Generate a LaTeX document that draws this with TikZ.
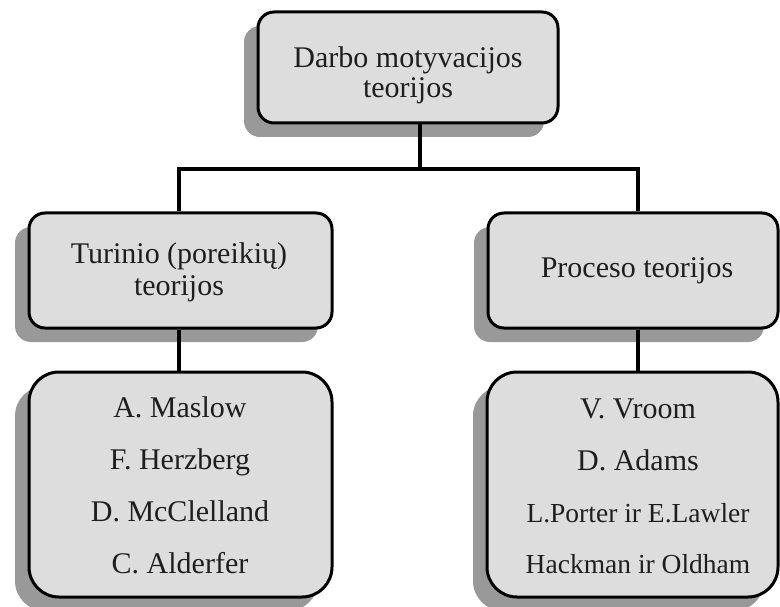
\documentclass[tikz,border=0pt]{standalone}
\usepackage{fontspec}
\setmainfont{Liberation Serif}
\usetikzlibrary{shadows}
\definecolor{boxfill}{RGB}{221,221,221}
\definecolor{shadowgray}{RGB}{153,153,153}
\definecolor{inkc}{RGB}{30,30,30}
\begin{document}
\begin{tikzpicture}[x=1pt,y=-1pt,
  box/.style={draw=black, line width=3pt, fill=boxfill, rectangle, inner sep=0pt,
    rounded corners=16pt,
    drop shadow={shadow xshift=-14pt, shadow yshift=-14pt, fill=shadowgray, opacity=1}},
  bigbox/.style={box, rounded corners=30pt},
  conn/.style={draw=black, line width=3.2pt, line join=miter},
  txt/.style={anchor=base, inner sep=0pt, text=inkc, font=\fontsize{30}{32}\selectfont},
  smalltxt/.style={txt, font=\fontsize{27.5}{29}\selectfont}]
\useasboundingbox (0,0) rectangle (780,607);

% boxes
\node[box, minimum width=300pt, minimum height=111pt] (T) at (408,67.5) {};
\node[box, minimum width=303pt, minimum height=115pt] (L) at (180.5,270.5) {};
\node[box, minimum width=290pt, minimum height=115pt] (R) at (633,270.5) {};
\node[bigbox, minimum width=303pt, minimum height=225pt] (BL) at (180.5,484.5) {};
\node[bigbox, minimum width=291pt, minimum height=225pt] (BR) at (632.5,484.5) {};

% texts
\node[txt] (t1) at (408,68) {Darbo motyvacijos};
\node[txt] (t2) at (408,98) {teorijos};
\node[txt] (l1) at (179,263) {Turinio (poreikių)};
\node[txt] (l2) at (179,295) {teorijos};
\node[txt] (r1) at (637,277) {Proceso teorijos};
\node[txt] (bl1) at (180,417) {A. Maslow};
\node[txt] (bl2) at (180,469) {F. Herzberg};
\node[txt] (bl3) at (180,521) {D. McClelland};
\node[txt] (bl4) at (180,573) {C. Alderfer};
\node[txt] (br1) at (638,418) {V. Vroom};
\node[txt] (br2) at (638,470) {D. Adams};
\node[smalltxt] (br3) at (638,522) {L.Porter ir E.Lawler};
\node[smalltxt] (br4) at (638,573) {Hackman ir Oldham};

% connectors
\coordinate (jt) at (420,169);
\coordinate (jl) at (179,169);
\coordinate (jr) at (638,169);
\draw[conn] (T.south -| jt) -- (jt);
\draw[conn] (L.north -| jl) -- (jl) -- (jr) -- (R.north -| jr);
\draw[conn] (L.south -| jl) -- (BL.north -| jl);
\draw[conn] (R.south -| jr) -- (BR.north -| jr);
\end{tikzpicture}
\end{document}
